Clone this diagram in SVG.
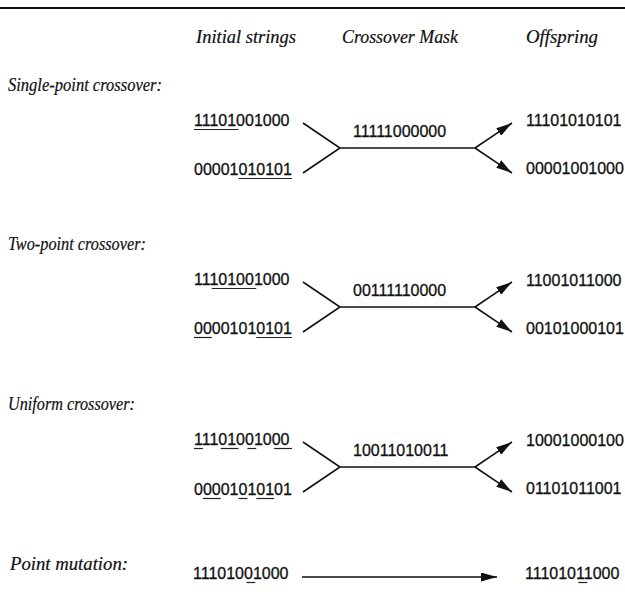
<svg xmlns="http://www.w3.org/2000/svg" width="625" height="598" viewBox="0 0 625 598">
<defs>
<style>
.hd{font-family:"Liberation Serif","Times New Roman",serif;font-style:italic;font-size:18px;fill:#111;stroke:#111;stroke-width:0.2}
.bits{font-family:"Liberation Sans",Arial,sans-serif;font-size:16px;fill:#111;stroke:#111;stroke-width:0.3}
.ul{stroke:#222;stroke-width:1.2}
.cn{stroke:#111;stroke-width:1.6;fill:none}
.ar{marker-end:url(#ah)}
</style>
<marker id="ah" markerUnits="userSpaceOnUse" markerWidth="16" markerHeight="9" refX="16" refY="4.5" orient="auto">
<path d="M0,0 L16,4.5 L0,9 z" fill="#111"/>
</marker>
</defs>
<rect width="625" height="598" fill="#fff"/>
<line x1="0" y1="8" x2="625" y2="8" stroke="#111" stroke-width="2"/>
<g id="headers">
<text class="hd" x="196" y="43" textLength="100" lengthAdjust="spacingAndGlyphs">Initial strings</text>
<text class="hd" x="342" y="43" textLength="116" lengthAdjust="spacingAndGlyphs">Crossover Mask</text>
<text class="hd" x="526" y="43" textLength="72" lengthAdjust="spacingAndGlyphs">Offspring</text>
</g>
<g id="labels">
<text class="hd" x="8" y="91" textLength="154" lengthAdjust="spacingAndGlyphs">Single-point crossover:</text>
<text class="hd" x="8" y="250" textLength="138" lengthAdjust="spacingAndGlyphs">Two-point crossover:</text>
<text class="hd" x="8" y="410" textLength="127" lengthAdjust="spacingAndGlyphs">Uniform crossover:</text>
<text class="hd" x="10" y="570" textLength="118" lengthAdjust="spacingAndGlyphs">Point mutation:</text>
</g>
<g id="single-p1"><text class="bits" x="194" y="126">11101001000</text><line class="ul" x1="194" y1="129.5" x2="238.5" y2="129.5"/></g>
<g id="single-p2"><text class="bits" x="194" y="175">00001010101</text><line class="ul" x1="238.5" y1="178.5" x2="291.9" y2="178.5"/></g>
<g id="single-mask"><text class="bits" x="353" y="137">11111000000</text></g>
<g id="single-o1"><text class="bits" x="526" y="126">11101010101</text></g>
<g id="single-o2"><text class="bits" x="526" y="174">00001001000</text></g>
<g id="two-p1"><text class="bits" x="194" y="285">11101001000</text><line class="ul" x1="211.8" y1="288.5" x2="256.3" y2="288.5"/></g>
<g id="two-p2"><text class="bits" x="194" y="334">00001010101</text><line class="ul" x1="194" y1="337.5" x2="211.8" y2="337.5"/><line class="ul" x1="256.3" y1="337.5" x2="291.9" y2="337.5"/></g>
<g id="two-mask"><text class="bits" x="353" y="296">00111110000</text></g>
<g id="two-o1"><text class="bits" x="526" y="286">11001011000</text></g>
<g id="two-o2"><text class="bits" x="526" y="334">00101000101</text></g>
<g id="uni-p1"><text class="bits" x="194" y="445">11101001000</text><line class="ul" x1="194" y1="448.5" x2="202.9" y2="448.5"/><line class="ul" x1="220.7" y1="448.5" x2="238.5" y2="448.5"/><line class="ul" x1="247.4" y1="448.5" x2="256.3" y2="448.5"/><line class="ul" x1="274.1" y1="448.5" x2="291.9" y2="448.5"/></g>
<g id="uni-p2"><text class="bits" x="194" y="495">00001010101</text><line class="ul" x1="202.9" y1="498.5" x2="220.7" y2="498.5"/><line class="ul" x1="238.5" y1="498.5" x2="247.4" y2="498.5"/><line class="ul" x1="256.3" y1="498.5" x2="274.1" y2="498.5"/></g>
<g id="uni-mask"><text class="bits" x="353" y="456">10011010011</text></g>
<g id="uni-o1"><text class="bits" x="526" y="446">10001000100</text></g>
<g id="uni-o2"><text class="bits" x="526" y="494">01101011001</text></g>
<g id="mut-p"><text class="bits" x="193" y="579">11101001000</text><line class="ul" x1="246.4" y1="582.5" x2="255.3" y2="582.5"/></g>
<g id="mut-o"><text class="bits" x="525" y="579">11101011000</text><line class="ul" x1="578.4" y1="582.5" x2="587.3" y2="582.5"/></g>
<g id="connectors">
<path class="cn" d="M303,123 L340,148 L303,173 M340,148 L475,148"/>
<line class="cn ar" x1="475" y1="148" x2="512" y2="123"/>
<line class="cn ar" x1="475" y1="148" x2="512" y2="173"/>
<path class="cn" d="M303,282 L340,307 L303,332 M340,307 L475,307"/>
<line class="cn ar" x1="475" y1="307" x2="512" y2="282"/>
<line class="cn ar" x1="475" y1="307" x2="512" y2="332"/>
<path class="cn" d="M303,442 L340,467 L303,492 M340,467 L475,467"/>
<line class="cn ar" x1="475" y1="467" x2="512" y2="442"/>
<line class="cn ar" x1="475" y1="467" x2="512" y2="492"/>
<line class="cn ar" x1="302" y1="577" x2="497" y2="577"/>
</g>
</svg>
